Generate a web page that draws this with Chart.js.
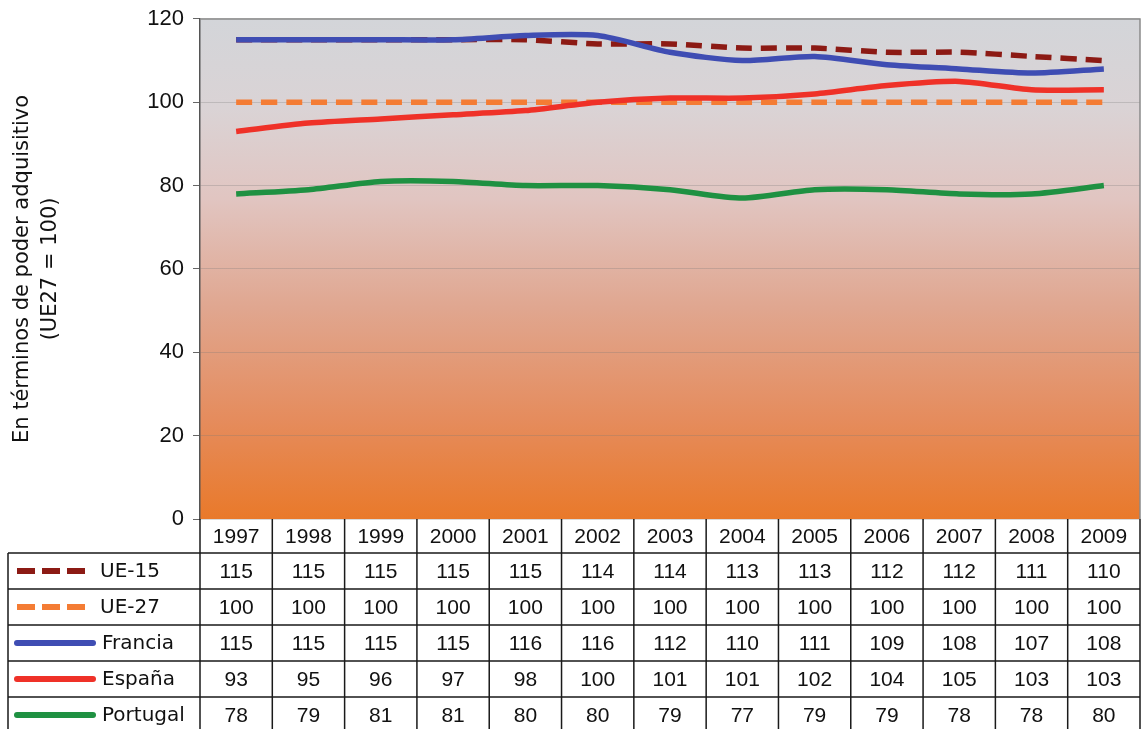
<!DOCTYPE html>
<html><head><meta charset="utf-8">
<script src="https://cdn.jsdelivr.net/npm/chart.js@4/dist/chart.umd.min.js"></script>
<style>html,body{margin:0;padding:0;background:#fff}#wrap{width:1141px;height:729px}</style>
</head><body><div id="wrap"><canvas id="c" width="1141" height="729"></canvas></div>
<script>
const years = ['1997','1998','1999','2000','2001','2002','2003','2004','2005','2006','2007','2008','2009'];
const ue15 = [115,115,115,115,115,114,114,113,113,112,112,111,110];
const ue27 = [100,100,100,100,100,100,100,100,100,100,100,100,100];
const francia = [115,115,115,115,116,116,112,110,111,109,108,107,108];
const espana = [93,95,96,97,98,100,101,101,102,104,105,103,103];
const portugal = [78,79,81,81,80,80,79,77,79,79,78,78,80];
const seriesNames = ['UE-15','UE-27','Francia','España','Portugal'];
const yTitle = ['En términos de poder adquisitivo','(UE27 = 100)'];
const yTicks = [0,20,40,60,80,100,120];

const colors = ['#8c1a14','#f47c34','#3f4db3','#ef3128','#1f9142'];
const dashes = [[16,9],[16,9],[],[],[]];
const seriesData = [ue15, ue27, francia, espana, portugal];

const bgPlugin = {
  id:'bg',
  beforeDraw(chart){
    const {ctx, chartArea:a} = chart;
    const g = ctx.createLinearGradient(0,a.top,0,a.bottom);
    g.addColorStop(0,'#d3d5d9');
    g.addColorStop(0.18,'#dad3d5');
    g.addColorStop(0.36,'#e1c5c1');
    g.addColorStop(0.58,'#e0a68f');
    g.addColorStop(0.8,'#e58c5d');
    g.addColorStop(1,'#e9792a');
    ctx.save();
    ctx.fillStyle = g;
    ctx.fillRect(a.left,a.top,a.right-a.left,a.bottom-a.top);
    ctx.restore();
  },
  beforeDatasetsDraw(chart){
    const {ctx, chartArea:a} = chart;
    ctx.save();
    ctx.strokeStyle = '#8a8a8a';
    ctx.lineWidth = 1.5;
    ctx.beginPath();
    ctx.moveTo(a.left,a.top); ctx.lineTo(a.right,a.top); ctx.lineTo(a.right,a.bottom);
    ctx.stroke();
    ctx.restore();
  }
};

const tablePlugin = {
  id:'table',
  afterDraw(chart){
    const {ctx, chartArea:a, scales:{x}} = chart;
    const n = years.length;
    const half = (a.right - a.left)/(2*n);
    const top = a.bottom;
    const headerH = 34, rowH = 36, tLeft = 8;
    const bottom = top + headerH + rowH*seriesNames.length;
    ctx.save();
    ctx.strokeStyle = '#1a1a1a';
    ctx.lineWidth = 1.5;
    ctx.beginPath();
    for (let r=0;r<=seriesNames.length;r++){
      const y = top + headerH + r*rowH;
      ctx.moveTo(tLeft,y); ctx.lineTo(a.right,y);
    }
    for (let i=0;i<n;i++){
      const xl = x.getPixelForValue(i) - half;
      ctx.moveTo(xl,top); ctx.lineTo(xl,bottom);
    }
    ctx.moveTo(a.right,top); ctx.lineTo(a.right,bottom);
    ctx.moveTo(tLeft,top+headerH); ctx.lineTo(tLeft,bottom);
    ctx.stroke();

    ctx.fillStyle = '#111';
    ctx.font = '21px "Liberation Sans", Arial, sans-serif';
    ctx.textAlign = 'center';
    ctx.textBaseline = 'middle';
    for (let i=0;i<n;i++){
      const cx = x.getPixelForValue(i);
      ctx.fillText(years[i], cx, top + headerH/2 + 1);
      for (let s=0;s<seriesData.length;s++){
        ctx.fillText(String(seriesData[s][i]), cx, top + headerH + s*rowH + rowH/2 + 1);
      }
    }
    // legend column
    ctx.textAlign = 'left';
    ctx.font = '20px "DejaVu Sans", sans-serif';
    for (let s=0;s<seriesNames.length;s++){
      const cy = top + headerH + s*rowH + rowH/2;
      ctx.save();
      ctx.strokeStyle = colors[s];
      ctx.lineWidth = 6;
      ctx.lineCap = dashes[s].length ? 'butt' : 'round';
      ctx.setLineDash(dashes[s].length ? [18,7] : []);
      ctx.beginPath();
      ctx.moveTo(17,cy); ctx.lineTo(dashes[s].length ? 88 : 93,cy);
      ctx.stroke();
      ctx.restore();
      ctx.fillStyle = '#111';
      ctx.fillText(seriesNames[s], dashes[s].length ? 100 : 102, cy + 1);
    }
    ctx.restore();
  }
};

const datasets = seriesNames.map((name,i)=>({
  label:name,
  data:seriesData[i],
  borderColor:colors[i],
  backgroundColor:colors[i],
  borderWidth:5.5,
  borderDash:dashes[i],
  pointRadius:0,
  tension:0.25,
  fill:false,
  order: 5 - i
}));

new Chart(document.getElementById('c'), {
  type:'line',
  data:{labels:years, datasets:datasets},
  options:{
    responsive:false,
    animation:false,
    devicePixelRatio:1,
    layout:{padding:{left:8,top:0,right:1,bottom:202}},
    plugins:{legend:{display:false}, tooltip:{enabled:false}},
    scales:{
      x:{offset:true, ticks:{display:false}, grid:{display:false}, border:{display:false}},
      y:{
        min:0,max:120,
        afterBuildTicks(s){ s.ticks = yTicks.map(v=>({value:v})); },
        ticks:{font:{size:22,family:'"Liberation Sans", Arial, sans-serif', lineHeight:0.9}, color:'#111', padding:9},
        grid:{color:'rgba(120,120,120,0.28)', tickLength:7, tickColor:'#666', drawOnChartArea:true},
        border:{color:'#555', width:1.5},
        title:{display:true, text:yTitle, font:{size:21,family:'"DejaVu Sans", sans-serif', lineHeight:1.35}, color:'#111', padding:{top:0,bottom:0}},
        afterFit(s){ s.width = 192; }
      }
    }
  },
  plugins:[bgPlugin, tablePlugin]
});
</script>
</body></html>
